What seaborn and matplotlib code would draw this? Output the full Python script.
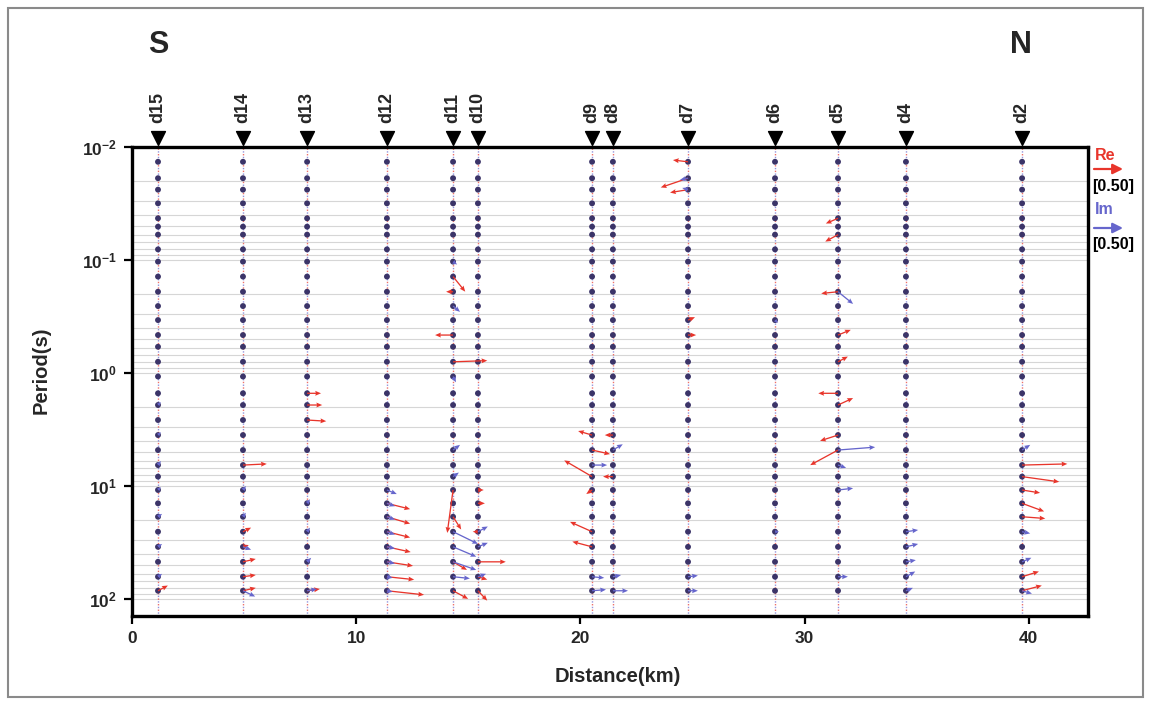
import numpy as np
import pandas as pd
import matplotlib
matplotlib.use("Agg")
import matplotlib.pyplot as plt
import seaborn as sns
from matplotlib.patches import Rectangle
from matplotlib.ticker import FixedLocator, FuncFormatter

# ---------------- data ----------------
stations = ["d15", "d14", "d13", "d12", "d11", "d10", "d9", "d8", "d7", "d6", "d5", "d4", "d2"]
station_km = [1.16, 4.95, 7.81, 11.37, 14.32, 15.43, 20.52, 21.45, 24.80, 28.68, 31.49, 34.52, 39.70]

periods = [0.0136, 0.019, 0.024, 0.0317, 0.043, 0.051, 0.060, 0.081, 0.104, 0.141,
           0.192, 0.257, 0.342, 0.464, 0.589, 0.80, 1.08, 1.52, 1.93, 2.62,
           3.56, 4.83, 6.56, 8.3, 10.9, 14.3, 18.8, 25.5, 34.7, 47.1, 63.8, 84.9]

x_ticks = [0, 10, 20, 30, 40]
y_ticks = [1e-2, 1e-1, 1e0, 1e1, 1e2]

# induction arrows: (period index, east component, up component); unit arrow = 1.0
re_d15 = [(31, 0.17, 0.09)]
im_d15 = [(18, 0.05, 0.05), (20, 0.05, 0.05), (22, 0.05, 0.07), (24, 0.05, 0.05),
          (26, 0.07, 0.05), (28, 0.07, 0.05), (30, 0.07, 0.05)]
re_d14 = [(22, 0.41, 0.02), (27, 0.14, 0.07), (28, 0.10, 0.03), (29, 0.22, 0.05),
          (30, 0.22, 0.03), (31, 0.22, 0.05)]
im_d14 = [(24, 0.05, 0.07), (26, 0.05, 0.07), (28, 0.14, -0.05), (31, 0.21, -0.10)]
re_d13 = [(17, 0.24, 0.0), (18, 0.26, 0.0), (19, 0.33, -0.02), (31, 0.22, 0.03)]
im_d13 = [(25, 0.05, 0.07), (27, 0.05, 0.07), (29, 0.07, 0.07), (31, 0.17, 0.03)]
re_d12 = [(25, 0.40, -0.10), (26, 0.40, -0.12), (27, 0.40, -0.10), (28, 0.41, -0.09),
          (29, 0.45, -0.07), (30, 0.47, -0.05), (31, 0.64, -0.07)]
im_d12 = [(24, 0.17, -0.07), (25, 0.14, -0.05), (26, 0.14, -0.05), (27, 0.14, -0.05),
          (28, 0.14, -0.03), (29, 0.14, -0.03), (30, 0.10, -0.02), (31, 0.10, -0.02)]
re_d11 = [(9, 0.21, -0.26), (10, -0.12, 0.0), (13, -0.31, 0.0), (15, 0.59, 0.02),
          (24, -0.10, -0.74), (26, 0.14, -0.22), (29, 0.24, -0.14), (31, 0.26, -0.14)]
im_d11 = [(8, 0.07, -0.05), (11, 0.12, -0.10), (16, 0.05, -0.10), (21, 0.12, 0.09),
          (23, 0.10, 0.07), (27, 0.43, -0.21), (28, 0.40, -0.17), (29, 0.40, -0.14),
          (30, 0.29, -0.03)]
re_d10 = [(24, 0.10, 0.0), (25, 0.12, 0.0), (27, -0.09, 0.0), (29, 0.48, 0.0),
          (30, 0.16, -0.05), (31, 0.16, -0.17)]
im_d10 = [(27, 0.17, 0.09), (28, 0.17, 0.07), (30, 0.14, 0.05)]
re_d9 = [(20, -0.24, 0.07), (21, 0.31, -0.07), (23, -0.48, 0.28), (24, -0.10, -0.07),
         (27, -0.38, 0.17), (28, -0.34, 0.09)]
im_d9 = [(22, 0.26, 0.0), (30, 0.21, -0.02), (31, 0.24, 0.02)]
re_d8 = [(20, -0.14, 0.0), (23, -0.17, 0.0)]
im_d8 = [(21, 0.17, 0.10), (30, 0.14, 0.03), (31, 0.26, 0.0)]
re_d7 = [(0, -0.26, 0.03), (1, -0.47, -0.16), (2, -0.31, -0.05), (12, 0.12, 0.05), (13, 0.14, 0.0)]
im_d7 = [(1, -0.14, -0.03), (2, -0.10, 0.03), (30, 0.17, 0.02), (31, 0.17, 0.0)]
re_d6 = []
im_d6 = [(12, 0.05, -0.05), (27, 0.07, 0.0)]
re_d5 = [(4, -0.21, -0.09), (6, -0.22, -0.12), (10, -0.29, -0.03), (13, 0.22, 0.09),
         (15, 0.17, 0.09), (17, -0.34, 0.0), (18, 0.26, 0.12), (20, -0.31, -0.10),
         (21, -0.48, -0.26)]
im_d5 = [(10, 0.26, -0.21), (21, 0.64, 0.05), (22, 0.14, -0.05), (24, 0.26, 0.03), (30, 0.17, 0.0)]
re_d4 = []
im_d4 = [(27, 0.21, 0.03), (28, 0.21, 0.05), (29, 0.17, 0.03), (30, 0.16, 0.09), (31, 0.12, 0.05)]
re_d2 = [(22, 0.78, 0.02), (23, 0.64, -0.09), (24, 0.31, -0.05), (25, 0.38, -0.14),
         (26, 0.40, -0.03), (30, 0.29, 0.09), (31, 0.34, 0.09)]
im_d2 = [(21, 0.14, 0.09), (27, 0.14, -0.03), (29, 0.16, 0.07), (31, 0.17, -0.05)]

key_value = 0.5
key_label = "[0.50]"

# ---------------- styling ----------------
RED = "#e8352b"
BLUE = "#6666cc"
DOT = "#3b3468"
PX_PER_UNIT = 58.0  # arrow length in pixels for unit induction vector

sns.set_theme(style="white")
plt.rcParams["font.family"] = ["Liberation Sans", "DejaVu Sans"]
plt.rcParams["mathtext.fontset"] = "custom"
plt.rcParams["mathtext.rm"] = "Liberation Sans"
plt.rcParams["mathtext.bf"] = "Liberation Sans:bold"
plt.rcParams["mathtext.it"] = "Liberation Sans:italic"

W, H = 1152, 704
fig = plt.figure(figsize=(W / 100, H / 100), dpi=100)
fig.patch.set_facecolor("white")
ax_l, ax_r, ax_t, ax_b = 132, 1088, 146.7, 616
ax = fig.add_axes([ax_l / W, (H - ax_b) / H, (ax_r - ax_l) / W, (ax_b - ax_t) / H])

# outer border
fig.patches.append(Rectangle((8 / W, 7 / H), (1143 - 8) / W, (697 - 8) / H,
                             transform=fig.transFigure, fill=False,
                             edgecolor="#8a8a8a", lw=1.5, zorder=0))

ax.set_yscale("log")
ax.set_ylim(142, 0.01)
ax.set_xlim(0, 42.64)

# grid: horizontal lines at log minor/major positions
ax.yaxis.grid(True, which="both", color="#d6d6d6", lw=0.8, zorder=0)
ax.xaxis.grid(False)

# station profile lines (dotted red & blue)
for xk in station_km:
    ax.axvline(xk, color=RED, lw=1.0, ls=(0, (1, 3)), alpha=0.7, zorder=1)
    ax.axvline(xk, color=BLUE, lw=1.0, ls=(2, (1, 3)), alpha=0.7, zorder=1)

# dots at each station / period
dots = pd.DataFrame([(k, p) for k in station_km for p in periods], columns=["km", "period"])
sns.scatterplot(data=dots, x="km", y="period", ax=ax, s=18, color=DOT,
                edgecolor="none", zorder=3, legend=False)

re_sets = [re_d15, re_d14, re_d13, re_d12, re_d11, re_d10, re_d9, re_d8, re_d7, re_d6, re_d5, re_d4, re_d2]
im_sets = [im_d15, im_d14, im_d13, im_d12, im_d11, im_d10, im_d9, im_d8, im_d7, im_d6, im_d5, im_d4, im_d2]


def collect(sets):
    X, Y, U, V = [], [], [], []
    for xk, lst in zip(station_km, sets):
        for (i, u, v) in lst:
            X.append(xk); Y.append(periods[i]); U.append(u); V.append(v)
    return X, Y, U, V


qkw = dict(angles="uv", scale_units="dots", scale=1.0 / PX_PER_UNIT, units="dots",
           width=1.3, headwidth=3.8, headlength=4.5, headaxislength=4.0, zorder=4)
Xr, Yr, Ur, Vr = collect(re_sets)
ax.quiver(Xr, Yr, Ur, Vr, color=RED, **qkw)
Xi, Yi, Ui, Vi = collect(im_sets)
ax.quiver(Xi, Yi, Ui, Vi, color=BLUE, **qkw)

# axes styling
for s in ax.spines.values():
    s.set_visible(True)
    s.set_color("black")
    s.set_linewidth(2.4)

ax.xaxis.set_major_locator(FixedLocator(x_ticks))
ax.yaxis.set_major_locator(FixedLocator(y_ticks))
ax.yaxis.set_major_formatter(FuncFormatter(lambda v, p: r"$\mathbf{10^{%d}}$" % int(round(np.log10(v)))))
ax.set_xticklabels([str(t) for t in x_ticks], fontsize=12.5, fontweight="bold")
ax.tick_params(axis="both", which="major", direction="out", length=6, width=1.6,
               color="black", labelsize=12.5, pad=5, bottom=True, left=True)
ax.tick_params(axis="y", which="minor", length=0, left=False)
for lab in ax.get_yticklabels():
    lab.set_fontsize(12.5)
ax.set_xlabel("")
ax.set_ylabel("")

fig.text(618 / W, 1 - 676 / H, "Distance(km)", ha="center", va="center",
         fontsize=14.5, fontweight="bold")
fig.text(41 / W, 1 - 370 / H, "Period(s)", ha="center", va="center",
         rotation=90, fontsize=14.5, fontweight="bold")

# station markers and labels
tr = ax.get_xaxis_transform()
ax.scatter(station_km, [1 + 9.0 / (ax_b - ax_t)] * len(station_km), marker="v", s=100,
           color="black", transform=tr, clip_on=False, zorder=5)
for name, xk in zip(stations, station_km):
    ax.text(xk, 1 + 24 / (ax_b - ax_t), name, transform=tr, rotation=90,
            ha="center", va="bottom", fontsize=13, fontweight="bold")

fig.text(158 / W, 1 - 45 / H, "S", ha="center", va="center", fontsize=22, fontweight="bold")
fig.text(1021 / W, 1 - 45 / H, "N", ha="center", va="center", fontsize=22, fontweight="bold")

# legend (scale arrows)
key_px = key_value * PX_PER_UNIT
for lab, col, y_lab, y_arr, y_val in [("Re", RED, 155, 169, 186), ("Im", BLUE, 210, 228, 245)]:
    fig.text(1095 / W, 1 - y_lab / H, lab, ha="left", va="center", color=col,
             fontsize=11.5, fontweight="bold")
    ax.annotate("", xy=((1094 + key_px), H - y_arr), xytext=(1094, H - y_arr),
                xycoords="figure pixels", textcoords="figure pixels",
                arrowprops=dict(arrowstyle="-|>,head_length=0.5,head_width=0.25",
                                color=col, lw=1.6, shrinkA=0, shrinkB=0))
    fig.text(1092 / W, 1 - y_val / H, key_label, ha="left", va="center", color="black",
             fontsize=11.5, fontweight="bold")

fig.savefig("out.png", dpi=100, facecolor="white")
